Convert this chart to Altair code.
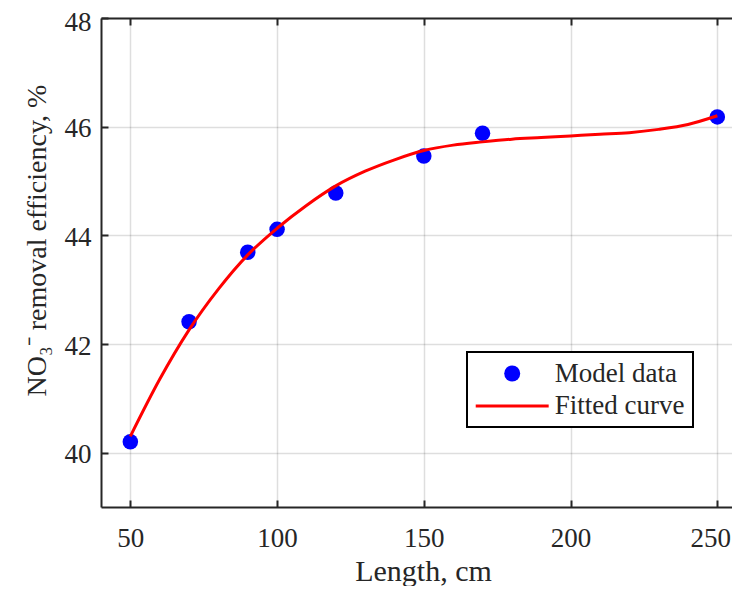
import altair as alt
import pandas as pd

# ---------------- data ----------------
length_cm = [50, 70, 90, 100, 120, 150, 170, 250]
efficiency = [40.20, 42.41, 43.69, 44.11, 44.78, 45.46, 45.88, 46.18]

curve_x = [50, 60, 70, 80, 90, 100, 110, 120, 130, 140, 150, 160, 170,
           180, 190, 200, 210, 220, 230, 240, 250]
curve_y = [40.30, 41.35, 42.26, 43.01, 43.64, 44.13, 44.55, 44.91, 45.18,
           45.39, 45.56, 45.66, 45.72, 45.77, 45.80, 45.83, 45.86, 45.89,
           45.95, 46.04, 46.20]

series_names = ["Model data", "Fitted curve"]
series_colors = ["#0000ff", "#ff0000"]
x_ticks = [50, 100, 150, 200, 250]
y_ticks = [40, 42, 44, 46, 48]

FONT = "Liberation Serif"
INK = "#262626"

pts = pd.DataFrame({"length": length_cm, "eff": efficiency,
                    "series": [series_names[0]] * len(length_cm)})
crv = pd.DataFrame({"length": curve_x, "eff": curve_y})

xscale = alt.Scale(domain=[40, 255], nice=False, zero=False)
yscale = alt.Scale(domain=[39, 48], nice=False, zero=False)

legend = alt.Legend(
    title=None, orient="none", legendX=366, legendY=334,
    symbolSize=256, symbolOffset=23.7, labelOffset=29,
    padding=8, rowPadding=4.5, strokeColor="#000000", fillColor="white",
    cornerRadius=0, labelFont=FONT, labelFontSize=27, labelColor=INK,
    symbolOpacity=1,
)

main_x = alt.Axis(
    orient="bottom", values=x_ticks, format="d",
    grid=True, gridColor="#000000", gridOpacity=0.13, gridWidth=1.5,
    domain=True, domainColor=INK, domainWidth=2,
    ticks=False, tickSize=0,
    labelFont=FONT, labelFontSize=27, labelColor=INK,
    labelBaseline="alphabetic", labelPadding=39,
    labelOffset={"condition": {"test": "datum.value == 250", "value": -7}, "value": 0},
    title="Length, cm", titleFont=FONT, titleFontSize=30,
    titleFontWeight="normal", titleColor=INK, titleBaseline="alphabetic",
    titleX=322, titleY=73, titleAlign="center",
)
main_y = alt.Axis(
    orient="left", values=y_ticks, format="d",
    grid=True, gridColor="#000000", gridOpacity=0.13, gridWidth=1.5,
    domain=True, domainColor=INK, domainWidth=2,
    ticks=False, tickSize=0,
    labelFont=FONT, labelFontSize=27, labelColor=INK, labelPadding=10,
    labelOffset={"condition": {"test": "datum.value == 48", "value": 4}, "value": 2},
    title="NO₃⁻ removal efficiency, %", titleFont=FONT, titleFontSize=28,
    titleFontWeight="normal", titleColor=INK, titleBaseline="alphabetic",
    titleX=-56, titleY=222, titleAngle=270, titleAlign="center",
)


def tick_axis(orient, values, color=INK, size=7):
    return alt.Axis(orient=orient, offset=-size, values=values, ticks=True,
                    tickSize=size, tickWidth=2, tickColor=color, domain=False,
                    labels=False, grid=False, title=None)


points = alt.Chart(pts).mark_point(
    filled=True, size=240, opacity=1, strokeWidth=0
).encode(
    x=alt.X("length:Q", scale=xscale, axis=main_x),
    y=alt.Y("eff:Q", scale=yscale, axis=main_y),
    color=alt.Color("series:N", scale=alt.Scale(domain=series_names, range=series_colors), legend=legend),
    shape=alt.Shape("series:N", scale=alt.Scale(
        domain=series_names,
        range=["circle", "M-4.56,-0.19H4.56V0.19H-4.56Z"]), legend=legend),
)

line = alt.Chart(crv).mark_line(
    color="#ff0000", strokeWidth=3, interpolate="monotone"
).encode(
    x=alt.X("length:Q", scale=xscale, axis=tick_axis("bottom", x_ticks)),
    y=alt.Y("eff:Q", scale=yscale, axis=None),
)

top_frame = alt.Chart(pts).mark_point(opacity=0).encode(
    x=alt.X("length:Q", scale=xscale, axis=alt.Axis(
        orient="top", offset=0, values=x_ticks, domain=True, domainColor=INK,
        domainWidth=2, ticks=False, labels=False, grid=False, title=None)),
    y=alt.Y("eff:Q", scale=yscale, axis=tick_axis("left", y_ticks)),
)

top_ticks = alt.Chart(pts).mark_point(opacity=0).encode(
    x=alt.X("length:Q", scale=xscale, axis=tick_axis("top", x_ticks)),
    y=alt.Y("eff:Q", scale=yscale, axis=None),
)

chart = alt.layer(points, line, top_frame, top_ticks).resolve_axis(
    x="independent", y="independent"
).properties(
    width=631, height=489,
    padding={"left": 93, "top": 10, "right": 0, "bottom": 79},
    autosize=alt.AutoSizeParams(type="none"),
    background="white",
).configure_view(stroke=None).configure_legend(strokeWidth=2)

chart.save("out.html", embed_options={"renderer": "svg", "actions": False})
